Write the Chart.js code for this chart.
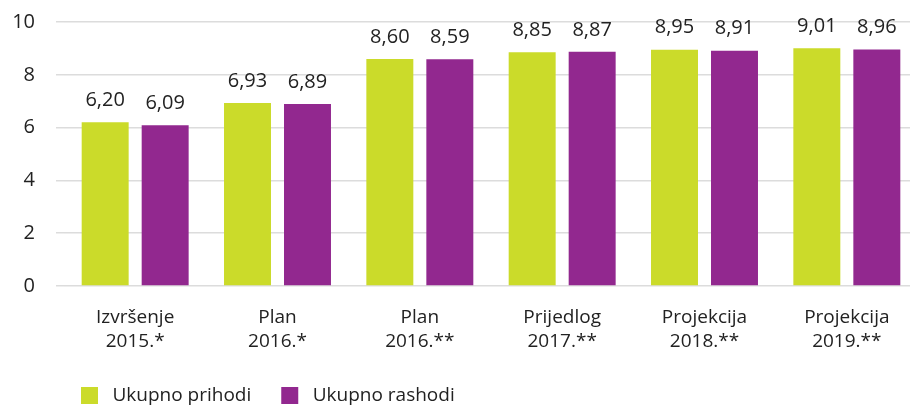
<!DOCTYPE html>
<html>
<head>
<meta charset="utf-8">
<script src="https://cdn.jsdelivr.net/npm/chart.js@4/dist/chart.umd.min.js"></script>
<style>
  html, body { margin: 0; padding: 0; background: #fff; }
  #wrap { width: 910px; height: 407px; }
</style>
</head>
<body>
<div id="wrap"><canvas id="chart"></canvas></div>
<script>
// podaci
const categories = [
    ['Izvršenje', '2015.*'],
    ['Plan', '2016.*'],
    ['Plan', '2016.**'],
    ['Prijedlog', '2017.**'],
    ['Projekcija', '2018.**'],
    ['Projekcija', '2019.**']
];
const prihodi = [6.20, 6.93, 8.60, 8.85, 8.95, 9.01];
const rashodi = [6.09, 6.89, 8.59, 8.87, 8.91, 8.96];
const yTicks = [0, 2, 4, 6, 8, 10];

const FONT = "'Open Sans', sans-serif";
const TEXT = '#222222';

// vrijednosti iznad stupaca (decimalni zarez)
const valueLabels = {
    id: 'valueLabels',
    afterDatasetsDraw(chart) {
        const ctx = chart.ctx;
        ctx.save();
        ctx.font = '20px ' + FONT;
        ctx.fillStyle = TEXT;
        ctx.textAlign = 'center';
        ctx.textBaseline = 'middle';
        chart.data.datasets.forEach((ds, i) => {
            chart.getDatasetMeta(i).data.forEach((bar, j) => {
                ctx.fillText(ds.data[j].toFixed(2).replace('.', ','), bar.x, bar.y - 22);
            });
        });
        ctx.restore();
    }
};

// raspored: legenda lijevo, x os malo šira od platna (kao u originalu)
const layoutFix = {
    id: 'layoutFix',
    afterLayout(chart) {
        const lg = chart.legend;
        lg.left += 40; lg.right += 40;
        lg.top += 8; lg.bottom += 8;
        const x = chart.scales.x;
        x.right += 8; x.width += 8;
        x.bottom += 14; x.height += 14;
        x.configure();
    }
};

new Chart(document.getElementById('chart'), {
    type: 'bar',
    data: {
        labels: categories,
        datasets: [
            { label: 'Ukupno prihodi', data: prihodi, backgroundColor: '#cbdb2a' },
            { label: 'Ukupno rashodi', data: rashodi, backgroundColor: '#92288f' }
        ]
    },
    options: {
        responsive: true,
        maintainAspectRatio: false,
        animation: false,
        categoryPercentage: 0.843,
        barPercentage: 0.783,
        layout: { padding: { left: 11, right: 0, top: 22, bottom: 0 } },
        scales: {
            x: {
                grid: { display: false },
                border: { display: false },
                afterFit: axis => { axis.height = 62; },
                ticks: {
                    color: TEXT,
                    font: { family: FONT, size: 19, lineHeight: 1.3 },
                    padding: 11,
                    maxRotation: 0
                }
            },
            y: {
                min: 0,
                max: 10,
                afterBuildTicks: axis => { axis.ticks = yTicks.map(v => ({ value: v })); },
                afterFit: axis => { axis.width = 53; axis.paddingTop = 0; axis.paddingBottom = 0; },
                border: { display: false },
                grid: { color: '#dcdcdc', lineWidth: 1.5, drawTicks: true, tickLength: 8, tickColor: '#dcdcdc' },
                ticks: {
                    color: TEXT,
                    font: { family: FONT, size: 20 },
                    padding: 21
                }
            }
        },
        plugins: {
            legend: {
                position: 'bottom',
                align: 'start',
                labels: {
                    color: TEXT,
                    font: { family: FONT, size: 19 },
                    boxWidth: 17,
                    boxHeight: 17,
                    padding: 30,
                    generateLabels: chart => chart.data.datasets.map((ds, i) => ({
                        text: ' ' + ds.label,
                        fillStyle: ds.backgroundColor,
                        strokeStyle: ds.backgroundColor,
                        lineWidth: 0,
                        fontColor: TEXT,
                        datasetIndex: i
                    }))
                }
            },
            tooltip: { enabled: false }
        }
    },
    plugins: [valueLabels, layoutFix]
});
</script>
</body>
</html>
